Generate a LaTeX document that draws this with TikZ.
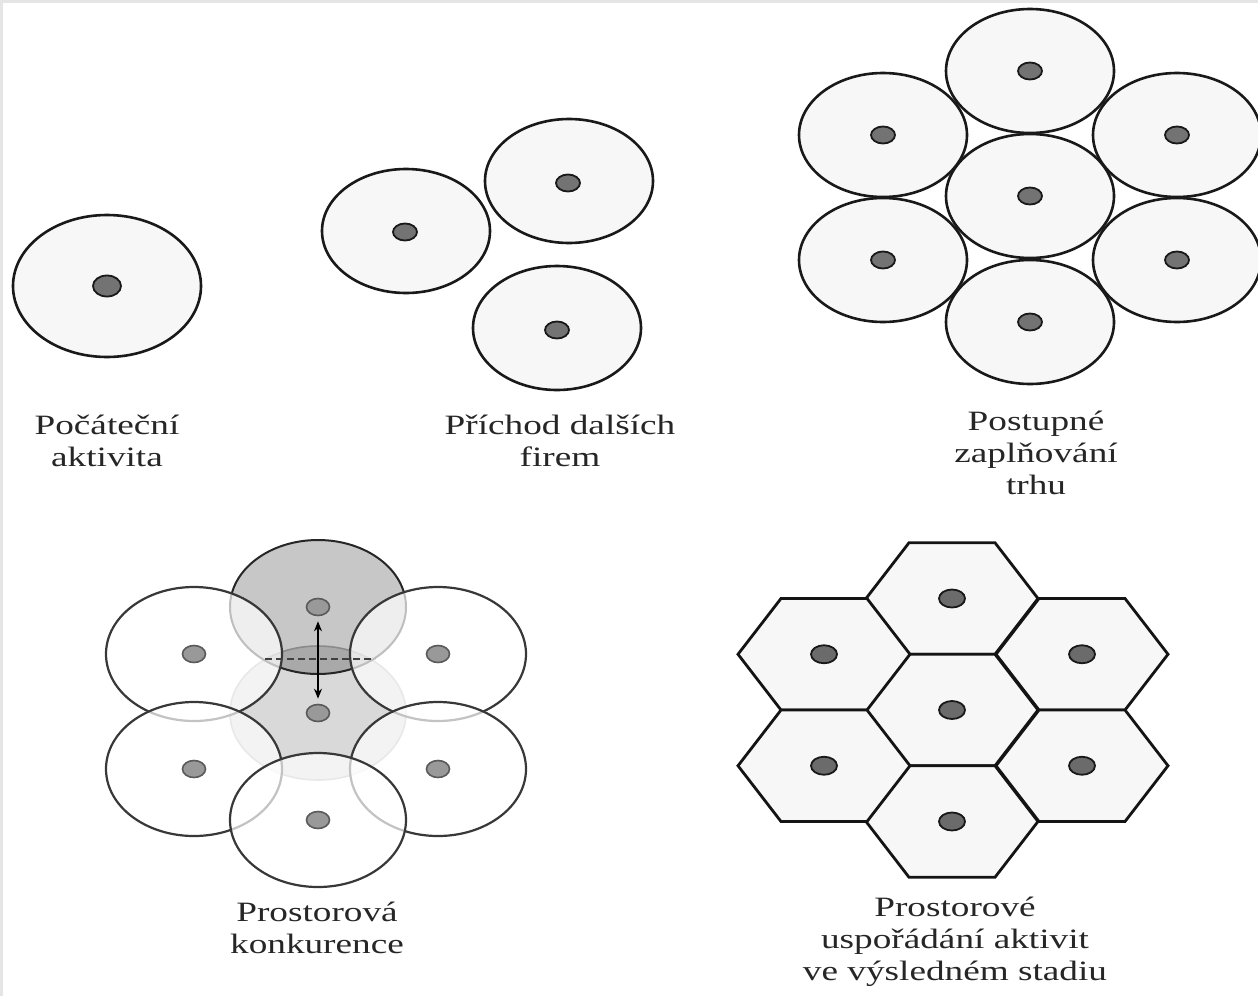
\documentclass[tikz,border=0pt]{standalone}
\usepackage{fontspec}
\setmainfont{Liberation Serif}
\usepackage{graphicx}
\usetikzlibrary{shapes.geometric,arrows.meta}
\newcommand\sx[1]{\scalebox{1.33}[1]{#1}}
\begin{document}
\begin{tikzpicture}[x=1pt,y=-1pt,
  area/.style={draw=black!90, line width=2.6pt, fill=black!3},
  firm/.style={ellipse, draw=black!90, line width=1.8pt, fill=black!55, inner sep=0pt, minimum width=24pt, minimum height=17pt},
  bigfirm/.style={firm, minimum width=28pt, minimum height=21pt},
  hexfirm/.style={firm, minimum width=26pt, minimum height=18pt, fill=black!58},
  cfirm/.style={ellipse, draw=black!65, line width=1.6pt, fill=black!40, inner sep=0pt, minimum width=23pt, minimum height=17pt},
  ring/.style={draw=black!78, line width=2.2pt, fill=white, fill opacity=0.7},
  cell/.style={draw=black!92, line width=2.8pt, fill=black!3, line join=miter},
  caption/.style={font=\fontsize{28}{32}\selectfont, text=black!85, align=center, anchor=north, inner sep=0pt},
  hexcell/.pic={\path[cell] (-86,0) -- (-43,-55.75) -- (43,-55.75) -- (86,0) -- (43,55.75) -- (-43,55.75) -- cycle;}
]
\useasboundingbox (0,0) rectangle (1258,996);
\fill[white] (0,0) rectangle (1258,996);
\fill[black!10] (0,0) rectangle (3,996);
\fill[black!10] (0,0) rectangle (1258,3);

% Panel 1
\path[area] (107,286) ellipse [x radius=94pt, y radius=71pt];
\node[bigfirm] (p1) at (107,286) {};
\node[caption] (c1) at (107,415) {\sx{Počáteční}\\\sx{aktivita}};

% Panel 2
\path[area] (406,231) ellipse [x radius=84pt, y radius=62pt];
\path[area] (569,181) ellipse [x radius=84pt, y radius=62pt];
\path[area] (557,328) ellipse [x radius=84pt, y radius=62pt];
\node[firm] (p2a) at (405,232) {};
\node[firm] (p2b) at (568,183) {};
\node[firm] (p2c) at (557,330) {};
\node[caption] (c2) at (560,415) {\sx{Příchod dalších}\\\sx{firem}};

% Panel 3
\foreach \i/\x/\y in {a/1030/196, b/1030/71, c/1030/322, d/883/135, e/1177/135, f/883/260, g/1177/260}{
  \path[area] (\x,\y) ellipse [x radius=84pt, y radius=62pt];
  \node[firm] (p3\i) at (\x,\y) {};
}
\node[caption] (c3) at (1036,411) {\sx{Postupné}\\\sx{zaplňování}\\\sx{trhu}};

% Panel 4
\path[draw=black!30, line width=1.6pt, fill=black!15] (318,713) ellipse [x radius=88pt, y radius=67pt];
\path[draw=black!85, line width=2pt, fill=black, fill opacity=0.22] (318,607) ellipse [x radius=88pt, y radius=67pt];
\path[ring] (194,654) ellipse [x radius=88pt, y radius=67pt];
\path[ring] (438,654) ellipse [x radius=88pt, y radius=67pt];
\path[ring] (194,769) ellipse [x radius=88pt, y radius=67pt];
\path[ring] (438,769) ellipse [x radius=88pt, y radius=67pt];
\path[ring] (318,820) ellipse [x radius=88pt, y radius=67pt];
\coordinate (dl) at (265,659);
\coordinate (dr) at (375,659);
\draw[black!75, line width=1.3pt, dash pattern=on 7pt off 4pt] (dl) -- (dr);
\node[cfirm] (p4t) at (318,607) {};
\node[cfirm] (p4c) at (318,713) {};
\node[cfirm] (p4ul) at (194,654) {};
\node[cfirm] (p4ur) at (438,654) {};
\node[cfirm] (p4ll) at (194,769) {};
\node[cfirm] (p4lr) at (438,769) {};
\node[cfirm] (p4b) at (318,820) {};
\draw[{Stealth[length=10pt,width=8pt]}-{Stealth[length=10pt,width=8pt]}, line width=1.4pt, shorten <=5pt, shorten >=5pt] (p4t.south) -- (p4c.north);
\node[caption] (c4) at (317,902) {\sx{Prostorová}\\\sx{konkurence}};

% Panel 5
\foreach \x/\y in {952/598.5, 952/710, 952/821.5, 824/654.25, 824/765.75, 1082/654.25, 1082/765.75}{
  \pic at (\x,\y) {hexcell};
}
\foreach \i/\x/\y in {a/952/598.5, b/952/710, c/952/821.5, d/824/654.25, e/824/765.75, f/1082/654.25, g/1082/765.75}{
  \node[hexfirm] (p5\i) at (\x,\y) {};
}
\node[caption] (c5) at (955,897) {\sx{Prostorové}\\\sx{uspořádání aktivit}\\\sx{ve výsledném stadiu}};
\end{tikzpicture}
\end{document}
